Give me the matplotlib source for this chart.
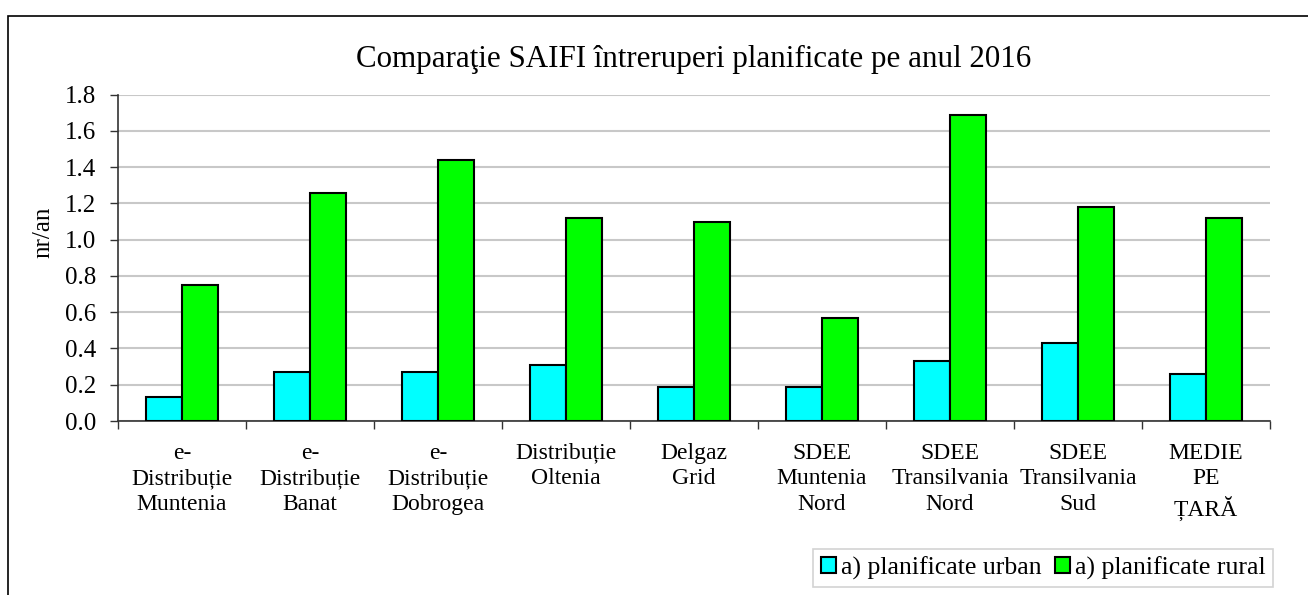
import numpy as np
import matplotlib
matplotlib.use('Agg')
import matplotlib.pyplot as plt
from matplotlib.patches import Rectangle
from matplotlib.ticker import FixedLocator, FormatStrFormatter

# ── Data ──────────────────────────────────────────────────────────────────────
categories = ['e-\nDistribuție\nMuntenia', 'e-\nDistribuție\nBanat',
              'e-\nDistribuție\nDobrogea', 'Distribuție\nOltenia',
              'Delgaz\nGrid', 'SDEE\nMuntenia\nNord', 'SDEE\nTransilvania\nNord',
              'SDEE\nTransilvania\nSud', 'MEDIE\nPE\nȚARĂ']
urban = [0.13, 0.27, 0.27, 0.31, 0.19, 0.19, 0.33, 0.43, 0.26]
rural = [0.75, 1.26, 1.44, 1.12, 1.10, 0.57, 1.69, 1.18, 1.12]
y_ticks = [0.0, 0.2, 0.4, 0.6, 0.8, 1.0, 1.2, 1.4, 1.6, 1.8]

plt.rcParams['font.family'] = ['Liberation Serif', 'DejaVu Serif']

fig = plt.figure(figsize=(13.08, 5.95), dpi=100)
# outer chart frame (only left and top edges visible in the crop)
fig.patches.append(Rectangle((8 / 1308, -0.1), 1.1, 1.1 - 16 / 595,
                             transform=fig.transFigure, fill=False,
                             edgecolor='black', lw=1.2))

ax = fig.add_axes([118 / 1308, 1 - 421 / 595, (1270 - 118) / 1308, (421 - 94.7) / 595])

# ── Bars ──────────────────────────────────────────────────────────────────────
x = np.arange(len(categories))
w = 0.285
ax.bar(x - w / 2, urban, w, color='#00FFFF', edgecolor='black', lw=1.5,
       label='a) planificate urban', zorder=3)
ax.bar(x + w / 2, rural, w, color='#00FF00', edgecolor='black', lw=1.5,
       label='a) planificate rural', zorder=3)

# ── Axes styling ──────────────────────────────────────────────────────────────
ax.set_xlim(-0.5, len(categories) - 0.5)
ax.set_ylim(0, 1.8)
ax.set_yticks(y_ticks)
ax.yaxis.set_major_formatter(FormatStrFormatter('%.1f'))
ax.grid(axis='y', color='#C8C8C8', lw=1.5, zorder=0)

ax.set_xticks(x)
ax.set_xticklabels(categories, fontsize=17, linespacing=1.3, va='top')
ax.xaxis.set_minor_locator(FixedLocator(np.arange(len(categories) + 1) - 0.5))
ax.tick_params(axis='x', which='major', length=0, pad=15.5)
ax.tick_params(axis='x', which='minor', length=6, width=1, color='#333333', direction='out')
ax.tick_params(axis='y', length=6, width=1, color='#333333', labelsize=18, pad=10)

for side in ['top', 'right']:
    ax.spines[side].set_visible(False)
for side in ['left', 'bottom']:
    ax.spines[side].set_color('#333333')
    ax.spines[side].set_linewidth(1.2)

ax.set_ylabel('nr/an', fontsize=18)
ax.yaxis.set_label_coords((54 - 118) / 1152, (421 - 232) / 326.3)

fig.text(0.53, 1 - 59 / 595, 'Comparaţie SAIFI întreruperi planificate pe anul 2016',
         ha='center', va='center', fontsize=22.3)

leg = ax.legend(loc='center right', bbox_to_anchor=(1273 / 1308, 1 - 568 / 595),
                bbox_transform=fig.transFigure, ncol=2, fontsize=18.5,
                frameon=True, fancybox=False, edgecolor='#C8C8C8',
                handlelength=0.58, handleheight=0.58, handletextpad=0.2,
                columnspacing=0.5, borderpad=0.3, borderaxespad=0)
leg.get_frame().set_linewidth(1.2)

fig.savefig('out.png', dpi=100)
